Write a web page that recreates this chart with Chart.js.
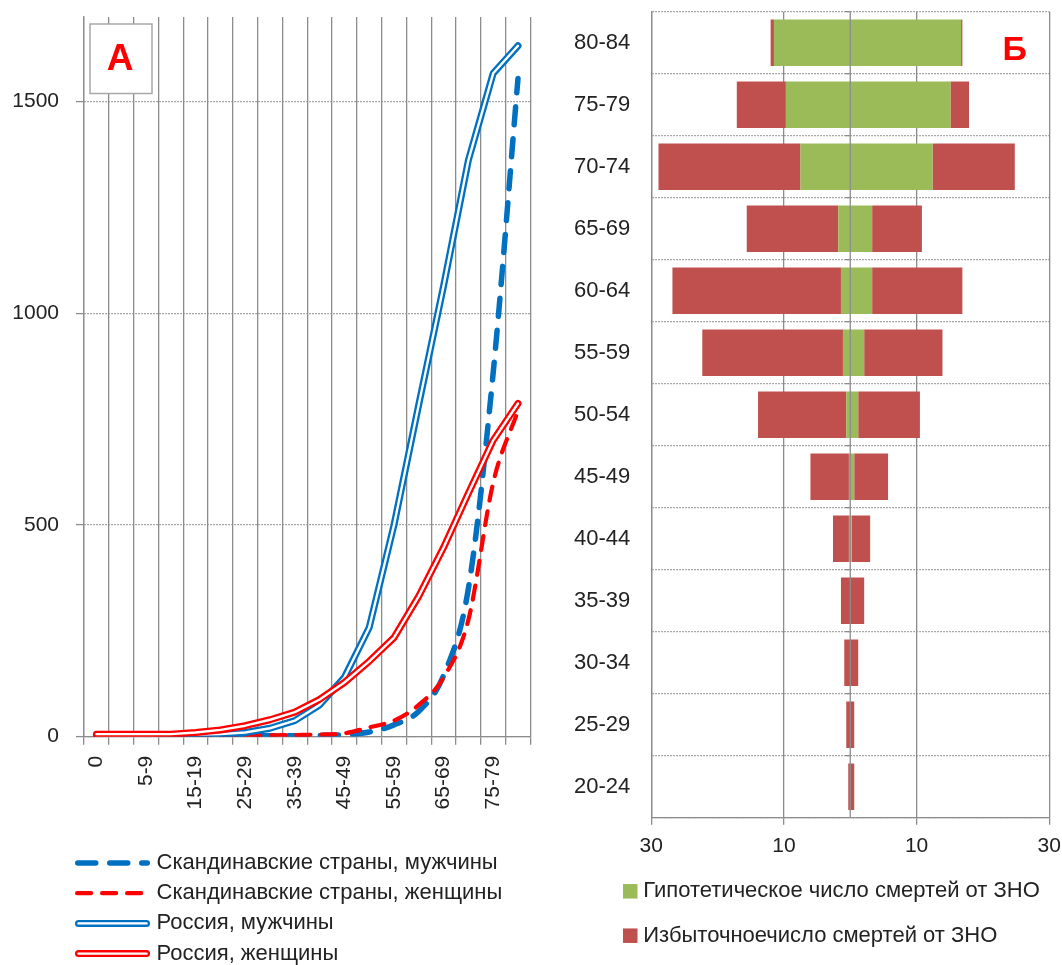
<!DOCTYPE html>
<html>
<head>
<meta charset="utf-8">
<script src="https://cdn.jsdelivr.net/npm/chart.js@4"></script>
<style>
  html, body { margin: 0; padding: 0; background: #ffffff; }
  #wrap { position: relative; width: 1062px; height: 965px; overflow: hidden; }
  canvas { position: absolute; top: 0; }
  #mortality { left: 0; }
  #deaths { left: 540px; }
</style>
</head>
<body>
<div id="wrap">
  <canvas id="mortality" width="540" height="965"></canvas>
  <canvas id="deaths" width="522" height="965"></canvas>
</div>
<script>
// Panel А: cancer mortality by age group (per 100 000)
const ageGroups = ['0', '1-4', '5-9', '10-14', '15-19', '20-24', '25-29', '30-34', '35-39',
  '40-44', '45-49', '50-54', '55-59', '60-64', '65-69', '70-74', '75-79', '80-84'];
const scandinaviaMen   = [1, 1, 1, 1, 1, 1, 2, 2, 2, 3, 5, 11, 28, 60, 145, 350, 860, 1555];
const scandinaviaWomen = [1, 1, 1, 1, 1, 1, 2, 3, 4, 5, 8, 22, 38, 75, 140, 276, 600, 770];
const russiaMen        = [3, 3, 3, 4, 5, 6, 10, 20, 38, 75, 140, 258, 500, 785, 1065, 1362, 1567, 1632];
const russiaWomen      = [6, 6, 6, 6, 10, 16, 26, 40, 58, 88, 128, 178, 234, 332, 447, 575, 700, 787];
const mortalityTicks   = [0, 500, 1000, 1500];

// Panel Б: hypothetical and excess cancer deaths by age band (thousands)
const ageBands = ['80-84', '75-79', '70-74', '65-69', '60-64', '55-59', '50-54',
  '45-49', '40-44', '35-39', '30-34', '25-29', '20-24'];
const hypotheticalLeft  = [-11.5, -9.7, -7.5, -1.8, -1.4, -1.1, -0.6, -0.2, -0.2, 0, 0, 0, 0];
const excessLeft        = [-0.5, -7.4, -21.4, -13.8, -25.4, -21.2, -13.3, -5.8, -2.4, -1.4, -0.9, -0.6, -0.3];
const hypotheticalRight = [16.7, 15.1, 12.4, 3.3, 3.3, 2.1, 1.2, 0.6, 0.2, 0, 0, 0, 0];
const excessRight       = [0.2, 2.8, 12.4, 7.5, 13.6, 11.8, 9.3, 5.1, 2.8, 2.1, 1.2, 0.6, 0.6];
const deathTicks        = [-30, -10, 10, 30];

const FONT = "'Liberation Sans', Arial, sans-serif";
const GRID = '#8c8c8c';
const TEXT = '#222222';
Chart.defaults.font.family = FONT;
Chart.defaults.color = TEXT;

// Fix an axis to a given thickness and drop its label overflow padding
function fixAxis(size) {
  return function (scale) {
    if (scale.isHorizontal()) scale.height = size; else scale.width = size;
    scale.paddingTop = 0;
    scale.paddingBottom = 0;
    scale.paddingLeft = 0;
    scale.paddingRight = 0;
  };
}

// Legend drawn one entry per row, reusing each dataset's own stroke/fill
function stackedLegend(cfg) {
  return {
    id: 'stackedLegend',
    afterDraw(chart) {
      const ctx = chart.ctx;
      const sets = chart.data.datasets;
      ctx.save();
      ctx.font = cfg.fontSize + 'px ' + FONT;
      ctx.textBaseline = 'middle';
      ctx.textAlign = 'left';
      cfg.items.forEach((item, k) => {
        const y = cfg.top + k * cfg.rowHeight;
        const d = sets[item.dataset];
        if (cfg.symbol === 'line') {
          const pad = d.borderWidth / 2;
          const stroke = (s) => {
            ctx.save();
            ctx.lineCap = 'round';
            ctx.strokeStyle = s.borderColor;
            ctx.lineWidth = s.borderWidth;
            ctx.setLineDash(s.borderDash || []);
            ctx.beginPath();
            ctx.moveTo(cfg.x + pad, y);
            ctx.lineTo(cfg.x + cfg.symbolWidth - pad, y);
            ctx.stroke();
            ctx.restore();
          };
          stroke(d);
          if (item.inner !== undefined) stroke(sets[item.inner]);
        } else {
          ctx.fillStyle = d.backgroundColor;
          ctx.fillRect(cfg.x, y - cfg.box / 2, cfg.box, cfg.box);
        }
        ctx.fillStyle = TEXT;
        ctx.fillText(d.label, cfg.textX, y);
      });
      ctx.restore();
    }
  };
}

// Panel letter, optionally inside a framed white box
function panelTag(cfg) {
  return {
    id: 'panelTag',
    beforeDatasetsDraw(chart) {
      const ctx = chart.ctx;
      ctx.save();
      if (cfg.box) {
        const [bx, by, bw, bh] = cfg.box;
        ctx.fillStyle = '#ffffff';
        ctx.fillRect(bx, by, bw, bh);
        ctx.strokeStyle = '#a8a8a8';
        ctx.lineWidth = 1.5;
        ctx.strokeRect(bx, by, bw, bh);
      }
      ctx.fillStyle = '#ff0000';
      ctx.font = 'bold ' + cfg.size + 'px ' + FONT;
      ctx.textAlign = 'center';
      ctx.textBaseline = 'middle';
      ctx.fillText(cfg.text, cfg.x, cfg.y);
      ctx.restore();
    }
  };
}

// Vertical axis line at zero, drawn above the bars
const zeroAxis = {
  id: 'zeroAxis',
  afterDatasetsDraw(chart) {
    const {ctx, chartArea, scales} = chart;
    const px = scales.x.getPixelForValue(0);
    const n = chart.data.labels.length;
    const step = (chartArea.bottom - chartArea.top) / n;
    ctx.save();
    ctx.strokeStyle = GRID;
    ctx.lineWidth = 1.3;
    ctx.beginPath();
    ctx.moveTo(px, chartArea.top);
    ctx.lineTo(px, chartArea.bottom);
    for (let k = 0; k < n; k++) {
      const yy = chartArea.top + k * step;
      ctx.moveTo(px - 5, yy);
      ctx.lineTo(px, yy);
    }
    ctx.stroke();
    ctx.restore();
  }
};

new Chart(document.getElementById('mortality'), {
  type: 'line',
  data: {
    labels: ageGroups,
    datasets: [
      { label: 'Скандинавские страны, мужчины', data: scandinaviaMen, borderColor: '#0070C0',
        borderWidth: 5.5, borderDash: [18, 14], cubicInterpolationMode: 'monotone', order: 6 },
      { label: 'Скандинавские страны, женщины', data: scandinaviaWomen, borderColor: '#FF0000',
        borderWidth: 4.2, borderDash: [14, 11], cubicInterpolationMode: 'monotone', order: 5 },
      { label: 'Россия, мужчины', data: russiaMen, borderColor: '#0070C0', borderWidth: 7, order: 4 },
      { label: 'Россия, мужчины', data: russiaMen, borderColor: '#ffffff', borderWidth: 2.4, order: 3 },
      { label: 'Россия, женщины', data: russiaWomen, borderColor: '#FF0000', borderWidth: 7, order: 2 },
      { label: 'Россия, женщины', data: russiaWomen, borderColor: '#ffffff', borderWidth: 2.4, order: 1 }
    ]
  },
  options: {
    responsive: false,
    animation: false,
    events: [],
    elements: {
      point: { radius: 0, hoverRadius: 0 },
      line: { fill: false, tension: 0, borderCapStyle: 'round', borderJoinStyle: 'round' }
    },
    layout: { padding: { top: 17, right: 9.6, bottom: 138.3, left: 0 } },
    plugins: { legend: { display: false }, tooltip: { enabled: false } },
    scales: {
      x: {
        type: 'category',
        offset: true,
        grid: { offset: true, color: GRID, lineWidth: 1.3, tickLength: 8 },
        border: { color: GRID, width: 1.3 },
        ticks: {
          autoSkip: false, minRotation: 90, maxRotation: 90, padding: 11,
          font: { size: 21 },
          callback(value, index) { return index % 2 === 0 ? this.getLabelForValue(value) : ''; }
        },
        afterFit: fixAxis(90)
      },
      y: {
        min: 0, max: 1700, bounds: 'data',
        afterBuildTicks(scale) { scale.ticks = mortalityTicks.map(v => ({ value: v })); },
        ticks: { padding: 17, font: { size: 21 }, callback: v => String(v) },
        grid: { color: GRID, lineWidth: 1.2, tickLength: 8, tickColor: GRID, tickWidth: 1.3, tickBorderDash: [] },
        border: { color: GRID, width: 1.3, dash: [1.5, 1.5] },
        afterFit: fixAxis(84)
      }
    }
  },
  plugins: [
    panelTag({ text: 'А', x: 120, y: 60, size: 37, box: [90, 24, 62, 69.5] }),
    stackedLegend({
      symbol: 'line', x: 75, symbolWidth: 75, textX: 156.5, top: 863, rowHeight: 30.2, fontSize: 22,
      items: [{ dataset: 0 }, { dataset: 1 }, { dataset: 2, inner: 3 }, { dataset: 4, inner: 5 }]
    })
  ]
});

new Chart(document.getElementById('deaths'), {
  type: 'bar',
  data: {
    labels: ageBands,
    datasets: [
      { label: 'Гипотетическое число смертей от ЗНО', data: hypotheticalLeft, backgroundColor: '#9BBB59' },
      { label: 'Гипотетическое число смертей от ЗНО', data: hypotheticalRight, backgroundColor: '#9BBB59' },
      { label: 'Избыточноечисло смертей от ЗНО', data: excessLeft, backgroundColor: '#C0504D' },
      { label: 'Избыточноечисло смертей от ЗНО', data: excessRight, backgroundColor: '#C0504D' }
    ]
  },
  options: {
    indexAxis: 'y',
    responsive: false,
    animation: false,
    events: [],
    datasets: { bar: { categoryPercentage: 1, barPercentage: 0.75 } },
    layout: { padding: { top: 11.7, right: 12.7, bottom: 97.3, left: 0 } },
    plugins: { legend: { display: false }, tooltip: { enabled: false } },
    scales: {
      x: {
        stacked: true, min: -30, max: 30,
        afterBuildTicks(scale) { scale.ticks = deathTicks.map(v => ({ value: v })); },
        ticks: { padding: 9, font: { size: 21 }, callback: v => String(Math.abs(v)) },
        grid: { color: GRID, lineWidth: 1.3, tickLength: 7 },
        border: { color: GRID, width: 1.3 },
        afterFit: fixAxis(50)
      },
      y: {
        stacked: true,
        grid: { offset: true, color: GRID, lineWidth: 1.2, drawTicks: false },
        border: { color: GRID, width: 1.3, dash: [1.5, 1.5] },
        ticks: { padding: 21, font: { size: 22 } },
        afterFit: fixAxis(111.2)
      }
    }
  },
  plugins: [
    zeroAxis,
    panelTag({ text: 'Б', x: 474.7, y: 51, size: 34 }),
    stackedLegend({
      symbol: 'box', x: 83, box: 14.5, textX: 103.3, top: 891.3, rowHeight: 44.4, fontSize: 22,
      items: [{ dataset: 0 }, { dataset: 2 }]
    })
  ]
});
</script>
</body>
</html>
